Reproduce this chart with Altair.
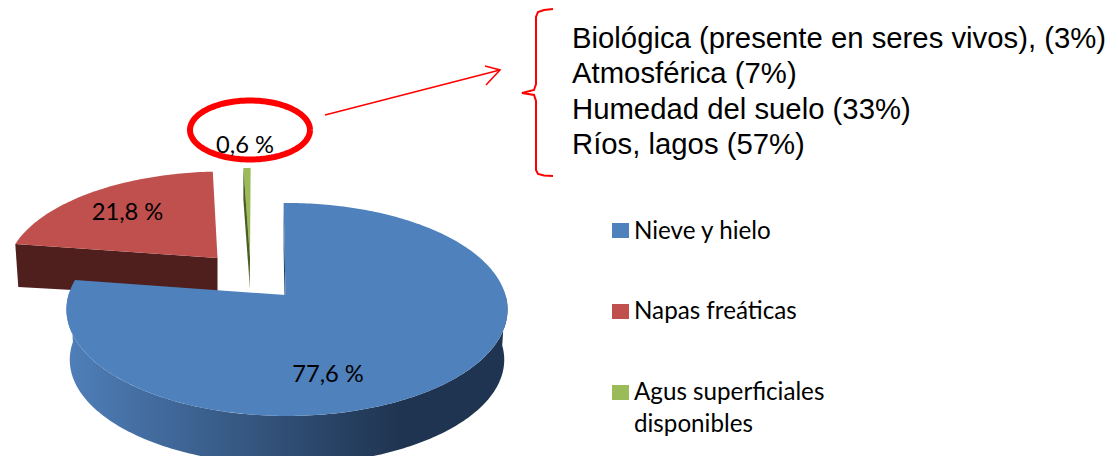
import math
import altair as alt
import pandas as pd

# chart values
categories = ["Nieve y hielo", "Napas freáticas", "Agus superficiales disponibles"]
shares = [77.6, 21.8, 0.6]
share_labels = ["77,6 %", "21,8 %", "0,6 %"]
colors = ["#4f81bd", "#c0504d", "#9bbb59"]
detail_lines = [
    "Biológica (presente en seres vivos), (3%)",
    "Atmosférica (7%)",
    "Humedad del suelo (33%)",
    "Ríos, lagos (57%)",
]

W, H = 1102, 448
OX, OY = 8, 8
START = -1.0
P = 0.136
RX = 218.5
RY = 104.5


def proj(theta_deg, vx, vy, sx=1.0, sy=1.0, shear=0.0):
    t = math.radians(theta_deg)
    u, v = math.sin(t), math.cos(t)
    d = 1 + P * v
    Y = RY * v / d * sy
    return (vx + RX * u / d * sx + shear * Y, vy - Y)


def arc(a0, a1, **kw):
    n = max(2, int(abs(a1 - a0)) + 2)
    return [proj(a0 + (a1 - a0) * i / (n - 1), **kw) for i in range(n)]


def poly(points):
    pts = [[x - OX, y - OY] for x, y in points]
    pts.append(pts[0])
    return alt.InlineData(values=[{"type": "Feature", "properties": {},
                                   "geometry": {"type": "Polygon", "coordinates": [pts]}}],
                          format=alt.DataFormat(type="json"))


def shape(points, fill):
    return alt.Chart(poly(points)).mark_geoshape(fill=fill, stroke=None, strokeWidth=0).project(
        type="identity", scale=1, translate=[0, 0])


# angles from values
spans = [s * 3.6 for s in shares]
b0, b1 = START, START + spans[0]
r0, r1 = b1, b1 + spans[1]
g0, g1 = r1, r1 + spans[2]

blue = dict(vx=287, vy=295)
blue_low = dict(vx=287, vy=345.5, sx=0.985, sy=0.985)
red = dict(vx=220.5, vy=258, sx=0.97, sy=0.94, shear=0.03)
green = dict(vx=254, vy=258, sx=1.0, sy=0.98)

layers = []

# red slice
red_top = arc(r0, r1, **red)
red_tip, red_v = red_top[0], (217.5, red["vy"])
layers.append(shape([red_tip, red_v, (red_v[0], red_v[1] + 40), (red_tip[0] + 3, red_tip[1] + 43)], "#4f1f1e"))
layers.append(shape([red_v] + red_top, colors[1]))

# green slice
green_top = arc(g0, g1, **green)
gv = (250, green["vy"])
ga = green_top[0]
layers.append(shape([gv] + green_top, colors[2]))
layers.append(shape([ga, gv, (gv[0], gv[1] + 32), (ga[0], ga[1] + 32)],
                    alt.Gradient(gradient="linear", x1=0, x2=0, y1=0, y2=1,
                                 stops=[alt.GradientStop(color="#4a5c22", offset=0),
                                        alt.GradientStop(color="#4a5c22", offset=0.75),
                                        alt.GradientStop(color="#8f9d74", offset=1)])))

# blue slice
side_top = arc(90, 272, **blue)
side_low = arc(90, 272, **blue_low)
layers.append(shape(side_top + side_low[::-1],
                    alt.Gradient(gradient="linear", x1=0, x2=1, y1=0, y2=0,
                                 stops=[alt.GradientStop(color="#4f7fb9", offset=0),
                                        alt.GradientStop(color="#1f3450", offset=0.76),
                                        alt.GradientStop(color="#1f3450", offset=1)])))
bv = (285.5, blue["vy"])
ba = proj(b0, **blue)
layers.append(shape([ba, bv, (bv[0], bv[1] + 48), (ba[0], ba[1] + 48)], "#1f3a5f"))
layers.append(shape([bv] + arc(b0, b1, **blue), colors[0]))

x_s = alt.Scale(domain=[OX, OX + W], range=[0, W], nice=False, zero=False)
y_s = alt.Scale(domain=[OY, OY + H], range=[0, H], nice=False, zero=False)
X = lambda f="x": alt.X(f"{f}:Q", scale=x_s, axis=None)
Y = lambda f="y": alt.Y(f"{f}:Q", scale=y_s, axis=None)


def line(points, width, color="#ff0000"):
    df = pd.DataFrame([{"x": a, "y": b, "i": i} for i, (a, b) in enumerate(points)])
    return alt.Chart(df).mark_line(color=color, strokeWidth=width, interpolate="linear").encode(
        x=X(), y=Y(), order="i:Q")


# red ring
ring = []
for i in range(121):
    t = 2 * math.pi * i / 120
    ring.append((250 + 60 * math.cos(t), 130 + 29.5 * math.sin(t)))
layers.append(line(ring, 6))

# arrow
layers.append(line([(325, 115), (500, 70)], 1.6))
layers.append(line([(485, 66), (500, 70), (486, 85)], 1.6))

# bracket
bracket = [(553, 9), (544, 10), (538, 12), (536, 17), (536, 84), (534, 90), (522, 93),
           (534, 95), (536, 101), (536, 170), (538, 174), (544, 175.5), (553, 176)]
layers.append(line(bracket, 2))


def text(rows, font, size):
    df = pd.DataFrame(rows)
    return alt.Chart(df).mark_text(font=font, fontSize=size, align=rows[0].get("align", "left"),
                                   baseline="alphabetic", color="#000000").encode(
        x=X(), y=Y(), text="t:N")


# value labels
layers.append(text([{"x": 328, "y": 382, "t": share_labels[0], "align": "center"},
                    {"x": 127.5, "y": 220, "t": share_labels[1], "align": "center"},
                    {"x": 245, "y": 153, "t": share_labels[2], "align": "center"}], "Lato", 23.7))

# detail text
text_y = [48, 83, 119, 154]
layers.append(text([{"x": 572, "y": y, "t": t} for y, t in zip(text_y, detail_lines)],
                   "Liberation Sans", 29.3))

# legend
leg_y = [223, 304, 385]
leg_df = pd.DataFrame({"x": [612] * 3, "x2": [629] * 3, "y": leg_y,
                       "y2": [v + 15 for v in leg_y], "c": categories})
layers.append(alt.Chart(leg_df).mark_rect().encode(
    x=X(), x2="x2:Q", y=Y(), y2="y2:Q",
    color=alt.Color("c:N", scale=alt.Scale(domain=categories, range=colors), legend=None)))
layers.append(text([{"x": 634, "y": 239, "t": categories[0]},
                    {"x": 634, "y": 319, "t": categories[1]},
                    {"x": 634, "y": 400, "t": "Agus superficiales"},
                    {"x": 634, "y": 432, "t": "disponibles"}], "Lato", 24.2))

chart = alt.layer(*layers).properties(
    width=W, height=H, padding=0, autosize=alt.AutoSizeParams(type="none"), background="#ffffff"
).configure_view(stroke=None)

chart.save("out.html", embed_options={"renderer": "svg", "actions": False})
